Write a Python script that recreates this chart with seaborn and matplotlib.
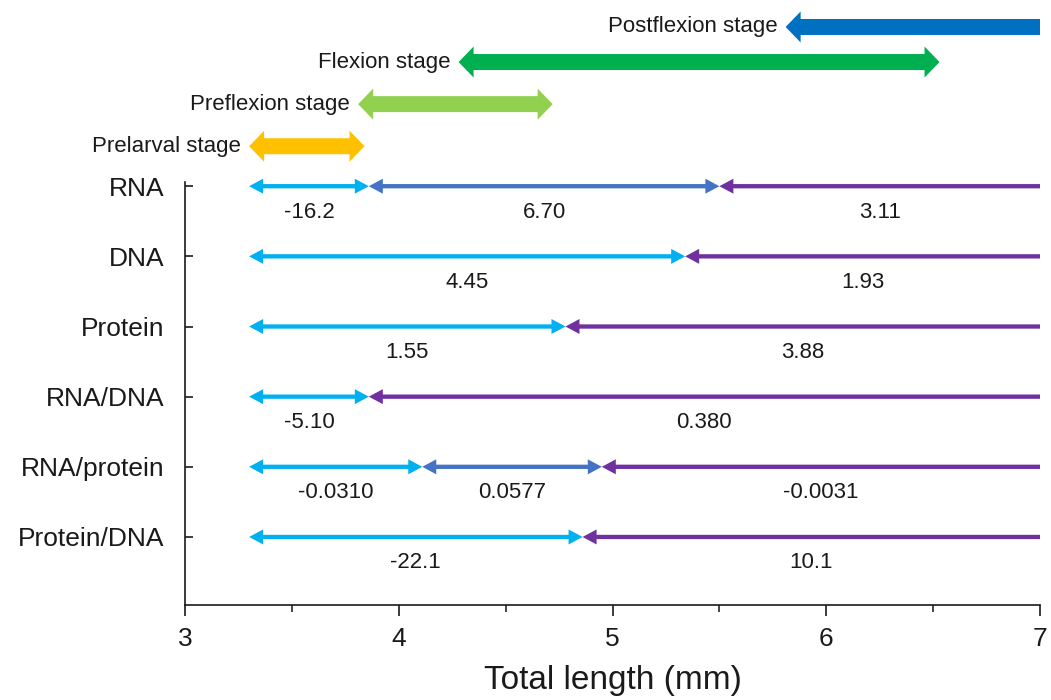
import seaborn as sns
import pandas as pd
import matplotlib.pyplot as plt
from matplotlib.patches import Polygon

# Rows (top to bottom) and the segments drawn on each row
features = ['RNA', 'DNA', 'Protein', 'RNA/DNA', 'RNA/protein', 'Protein/DNA']

seg_feature = ['RNA', 'RNA', 'RNA',
               'DNA', 'DNA',
               'Protein', 'Protein',
               'RNA/DNA', 'RNA/DNA',
               'RNA/protein', 'RNA/protein', 'RNA/protein',
               'Protein/DNA', 'Protein/DNA']
seg_start = [3.30, 3.86, 5.50,
             3.30, 5.34,
             3.30, 4.78,
             3.30, 3.86,
             3.30, 4.11, 4.95,
             3.30, 4.86]
seg_end = [3.86, 5.50, 7.00,
           5.34, 7.00,
           4.78, 7.00,
           3.86, 7.00,
           4.11, 4.95, 7.00,
           4.86, 7.00]
seg_label = ['-16.2', '6.70', '3.11',
             '4.45', '1.93',
             '1.55', '3.88',
             '-5.10', '0.380',
             '-0.0310', '0.0577', '-0.0031',
             '-22.1', '10.1']
seg_kind = ['early', 'mid', 'late',
            'early', 'late',
            'early', 'late',
            'early', 'late',
            'early', 'mid', 'late',
            'early', 'late']

# Developmental stages (bottom to top)
stages = ['Prelarval stage', 'Preflexion stage', 'Flexion stage', 'Postflexion stage']
stage_start = [3.30, 3.81, 4.28, 5.81]
stage_end = [3.84, 4.72, 6.53, 7.00]
stage_both = [True, True, True, False]

seg_colors = {'early': '#00B0F0', 'mid': '#4472C4', 'late': '#7030A0'}
stage_colors = ['#FFC000', '#92D050', '#00B050', '#0070C0']
stage_levels = [0.43, -0.17, -0.77, -1.27]

df = pd.DataFrame({'feature': seg_feature, 'start': seg_start, 'end': seg_end,
                   'label': seg_label, 'kind': seg_kind})
df['row'] = df['feature'].map({f: i + 1 for i, f in enumerate(features)})

sns.set_theme(style='ticks')
plt.rcParams['font.family'] = ['Liberation Sans', 'DejaVu Sans']

fig = plt.figure(figsize=(10.51, 7), dpi=100, facecolor='white')
ax = fig.add_axes([185 / 1051, 1 - 605 / 700, 855 / 1051, 423 / 700])
ax.set_xlim(3, 7)
ax.set_ylim(6.97, 0.94)

# pixels per data unit, so arrow heads can be sized in pixels
p0 = ax.transData.transform((0, 0))
p1 = ax.transData.transform((1, 1))
px_x, px_y = abs(p1[0] - p0[0]), abs(p1[1] - p0[1])

thin = dict(hl=14, hw=15, tw=4.3)
thick = dict(hl=15, hw=31, tw=16)


def arrow(x0, x1, y, color, size, left=True, right=True):
    hl = size['hl'] / px_x
    hw = size['hw'] / 2 / px_y
    tw = size['tw'] / 2 / px_y
    # outline: upper edge left->right, then lower edge right->left
    if left:
        v = [(x0, y), (x0 + hl, y - hw), (x0 + hl, y - tw)]
    else:
        v = [(x0, y + tw), (x0, y - tw)]
    if right:
        v += [(x1 - hl, y - tw), (x1 - hl, y - hw), (x1, y),
              (x1 - hl, y + hw), (x1 - hl, y + tw)]
    else:
        v += [(x1, y - tw), (x1, y + tw)]
    if left:
        v += [(x0 + hl, y + tw), (x0 + hl, y + hw)]
    ax.add_patch(Polygon(v, closed=True, fc=color, ec='none', lw=0, clip_on=False))


# Segment arrows with their values underneath
for _, r in df.iterrows():
    c = seg_colors[r['kind']]
    arrow(r['start'], r['end'], r['row'], c, thin, right=(r['kind'] != 'late'))
    ax.text((r['start'] + r['end']) / 2, r['row'] + 0.37, r['label'],
            ha='center', va='center', fontsize=16, color='#1a1a1a')

# Stage arrows above the plot
for name, s, e, both, c, y in zip(stages, stage_start, stage_end, stage_both,
                                   stage_colors, stage_levels):
    arrow(s, e, y, c, thick, right=both)
    ax.annotate(name, xy=(s, y), xytext=(-6, 0), textcoords='offset points',
                ha='right', va='center', fontsize=16, color='#1a1a1a',
                annotation_clip=False)

ax.set_xticks([3, 4, 5, 6, 7])
ax.set_xticks([3.5, 4.5, 5.5, 6.5], minor=True)
ax.set_yticks(range(1, len(features) + 1))
ax.set_yticklabels(features)
ax.tick_params(axis='x', direction='out', length=8, width=1.2, labelsize=19,
               pad=8, colors='#1a1a1a')
ax.tick_params(axis='x', which='minor', direction='out', length=5, width=1.2,
               bottom=True)
ax.tick_params(axis='y', direction='in', length=6, width=1.2, labelsize=19,
               pad=15, colors='#1a1a1a')
ax.set_xlabel('Total length (mm)', fontsize=24, color='#1a1a1a', labelpad=10)
ax.set_ylabel('')
sns.despine(ax=ax)
for sp in ['left', 'bottom']:
    ax.spines[sp].set_linewidth(1.2)
    ax.spines[sp].set_color('#1a1a1a')
ax.grid(False)

fig.savefig('out.png', dpi=100, facecolor='white')
